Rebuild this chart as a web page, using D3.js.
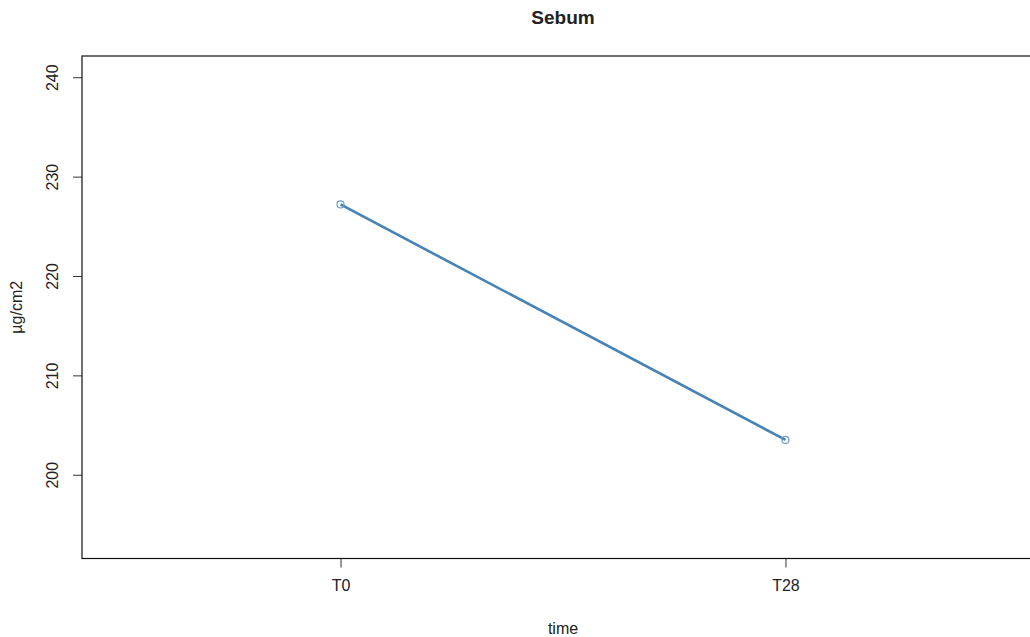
<!DOCTYPE html>
<html>
<head>
<meta charset="utf-8">
<script src="https://cdn.jsdelivr.net/npm/d3@7"></script>
<style>
  body { margin: 0; background: #fff; }
  text { font-family: "Liberation Sans", Arial, sans-serif; fill: #222; }
</style>
</head>
<body>
<div id="chart"></div>
<script>
// values
const timepoints = ['T0', 'T28'];
const sebum = [227.2, 203.5];
const yTicks = [200, 210, 220, 230, 240];
const yDomain = [191.57, 242.14];

const WIDTH = 1030;
const HEIGHT = 637;
const box = {left: 82, right: 1044, top: 56, bottom: 558.5};

const svg = d3.select('#chart')
  .append('svg')
    .attr('width', WIDTH)
    .attr('height', HEIGHT);

const x = d3.scalePoint()
  .domain(timepoints)
  .range([box.left, box.right])
  .padding(0.581);

const y = d3.scaleLinear()
  .domain(yDomain)
  .range([box.bottom, box.top]);

// x axis
const xAxis = svg.append('g')
  .attr('transform', `translate(0,${box.bottom})`)
  .call(d3.axisBottom(x).tickSize(9).tickPadding(12));
xAxis.select('.domain').remove();
xAxis.selectAll('.tick line').attr('stroke', '#333');
xAxis.selectAll('.tick text')
  .attr('font-size', 16)
  .attr('font-family', '"Liberation Sans", Arial, sans-serif')
  .attr('fill', '#222');

// y axis, labels rotated like base R
const yAxis = svg.append('g')
  .attr('transform', `translate(${box.left},0)`)
  .call(d3.axisLeft(y).tickValues(yTicks).tickSize(9));
yAxis.select('.domain').remove();
yAxis.selectAll('.tick line').attr('stroke', '#333');
yAxis.selectAll('.tick text')
  .attr('font-size', 16)
  .attr('font-family', '"Liberation Sans", Arial, sans-serif')
  .attr('fill', '#222')
  .attr('x', null)
  .attr('dy', null)
  .attr('text-anchor', 'middle')
  .attr('dominant-baseline', 'central')
  .attr('transform', 'translate(-29.5,0) rotate(-90)');

// plot frame
svg.append('rect')
  .attr('x', box.left)
  .attr('y', box.top)
  .attr('width', box.right - box.left)
  .attr('height', box.bottom - box.top)
  .attr('fill', 'none')
  .attr('stroke', '#111')
  .attr('stroke-width', 1.2);

const pts = timepoints.map((t, i) => ({t, v: sebum[i]}));

svg.append('path')
  .datum(pts)
  .attr('fill', 'none')
  .attr('stroke', '#4682B4')
  .attr('stroke-width', 2.6)
  .attr('d', d3.line().x(d => x(d.t)).y(d => y(d.v)));

svg.append('g')
  .selectAll('circle')
  .data(pts)
  .join('circle')
  .attr('cx', d => x(d.t))
  .attr('cy', d => y(d.v))
  .attr('r', 3.5)
  .attr('fill', 'none')
  .attr('stroke', '#6C9CC6')
  .attr('stroke-width', 1.2);

// titles
svg.append('text')
  .attr('x', (box.left + box.right) / 2)
  .attr('y', 24)
  .attr('text-anchor', 'middle')
  .attr('font-size', 19)
  .attr('font-weight', 'bold')
  .attr('fill', '#000')
  .text('Sebum');

svg.append('text')
  .attr('x', (box.left + box.right) / 2)
  .attr('y', 634)
  .attr('text-anchor', 'middle')
  .attr('font-size', 16)
  .text('time');

svg.append('text')
  .attr('transform', `translate(16,${(box.top + box.bottom) / 2}) rotate(-90)`)
  .attr('text-anchor', 'middle')
  .attr('dominant-baseline', 'central')
  .attr('font-size', 16)
  .text('µg/cm2');
</script>
</body>
</html>
